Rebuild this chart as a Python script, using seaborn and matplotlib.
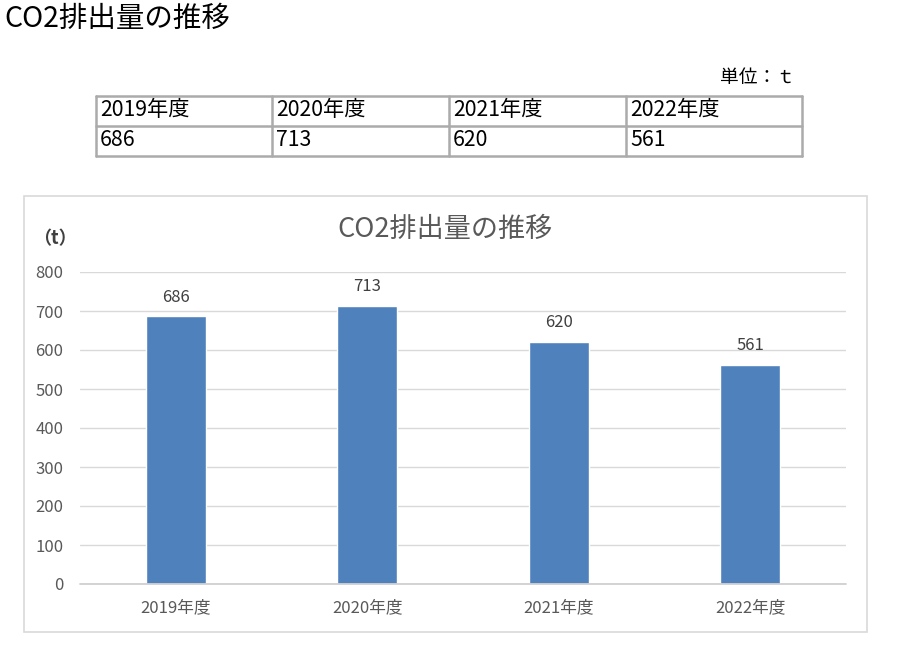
import matplotlib
matplotlib.use("Agg")
import matplotlib.pyplot as plt
from matplotlib.patches import Rectangle
from matplotlib.lines import Line2D
import seaborn as sns
import pandas as pd

years = ["2019年度", "2020年度", "2021年度", "2022年度"]
emissions = [686, 713, 620, 561]
y_ticks = [0, 100, 200, 300, 400, 500, 600, 700, 800]

title = "CO2排出量の推移"
unit_note = "単位：ｔ"
axis_unit = "（t）"

sns.set_theme(style="white")
plt.rcParams["font.family"] = ["Noto Sans CJK JP", "DejaVu Sans"]

W, H = 900, 648
fig = plt.figure(figsize=(9, 6.48), dpi=100)


def fx(px):
    return px / W


def fy(py):
    return 1 - py / H


# Page heading
fig.text(fx(4), fy(19), title, fontsize=20.5, color="black", ha="left", va="center")

# Unit note above the table
fig.text(fx(795), fy(78), unit_note, fontsize=13.5, color="black", ha="right", va="center")

# Summary table
col_edges = [96, 272, 449, 626, 802]
row_edges = [96, 126, 156]
line_col = "#ababab"
for xe in col_edges:
    fig.add_artist(Line2D([fx(xe), fx(xe)], [fy(row_edges[0]), fy(row_edges[-1])],
                          color=line_col, lw=1.8))
for ye in row_edges:
    fig.add_artist(Line2D([fx(col_edges[0]), fx(col_edges[-1])], [fy(ye), fy(ye)],
                          color=line_col, lw=1.8))
for i, (yr, v) in enumerate(zip(years, emissions)):
    x0 = col_edges[i] + 4
    fig.text(fx(x0), fy(110), yr, fontsize=15.3, color="black", ha="left", va="center")
    fig.text(fx(x0), fy(140), str(v), fontsize=15.3, color="black", ha="left", va="center")

# Chart frame
fig.add_artist(Rectangle((fx(24), fy(632)), fx(867) - fx(24), fy(196) - fy(632),
                         transform=fig.transFigure, fill=False,
                         edgecolor="#d9d9d9", lw=1.2))

# Chart title and axis unit
fig.text(fx(445), fy(229), title, fontsize=19.5, color="#595959", ha="center", va="center")
fig.text(fx(33), fy(239), axis_unit, fontsize=13, color="#404040", ha="left", va="center",
         fontweight="bold")

# Bar chart
ax = fig.add_axes([fx(80), fy(584), fx(846) - fx(80), fy(272) - fy(584)])
df = pd.DataFrame({"year": years, "co2": emissions})
sns.barplot(data=df, x="year", y="co2", color="#4f81bd", saturation=1,
            width=0.314, ax=ax, zorder=3)
ax.set_xlim(-0.5, len(years) - 0.5)
ax.set_ylim(0, 800)
ax.set_yticks(y_ticks)
ax.set_yticklabels([str(t) for t in y_ticks])
ax.grid(axis="y", color="#d9d9d9", lw=1, zorder=0)
ax.grid(axis="x", visible=False)
ax.axhline(0, color="#d0d0d0", lw=1.3, zorder=4, clip_on=False)
for s in ax.spines.values():
    s.set_visible(False)
ax.set_xlabel("")
ax.set_ylabel("")
ax.tick_params(axis="y", length=0, pad=12, labelsize=12, labelcolor="#595959")
ax.tick_params(axis="x", length=0, pad=11, labelsize=12, labelcolor="#595959")
ax.set_facecolor("none")

for i, v in enumerate(emissions):
    ax.annotate(str(v), (i, v), xytext=(0, 14), textcoords="offset points",
                ha="center", va="center", fontsize=12, color="#404040")

fig.savefig("out.png", dpi=100)
